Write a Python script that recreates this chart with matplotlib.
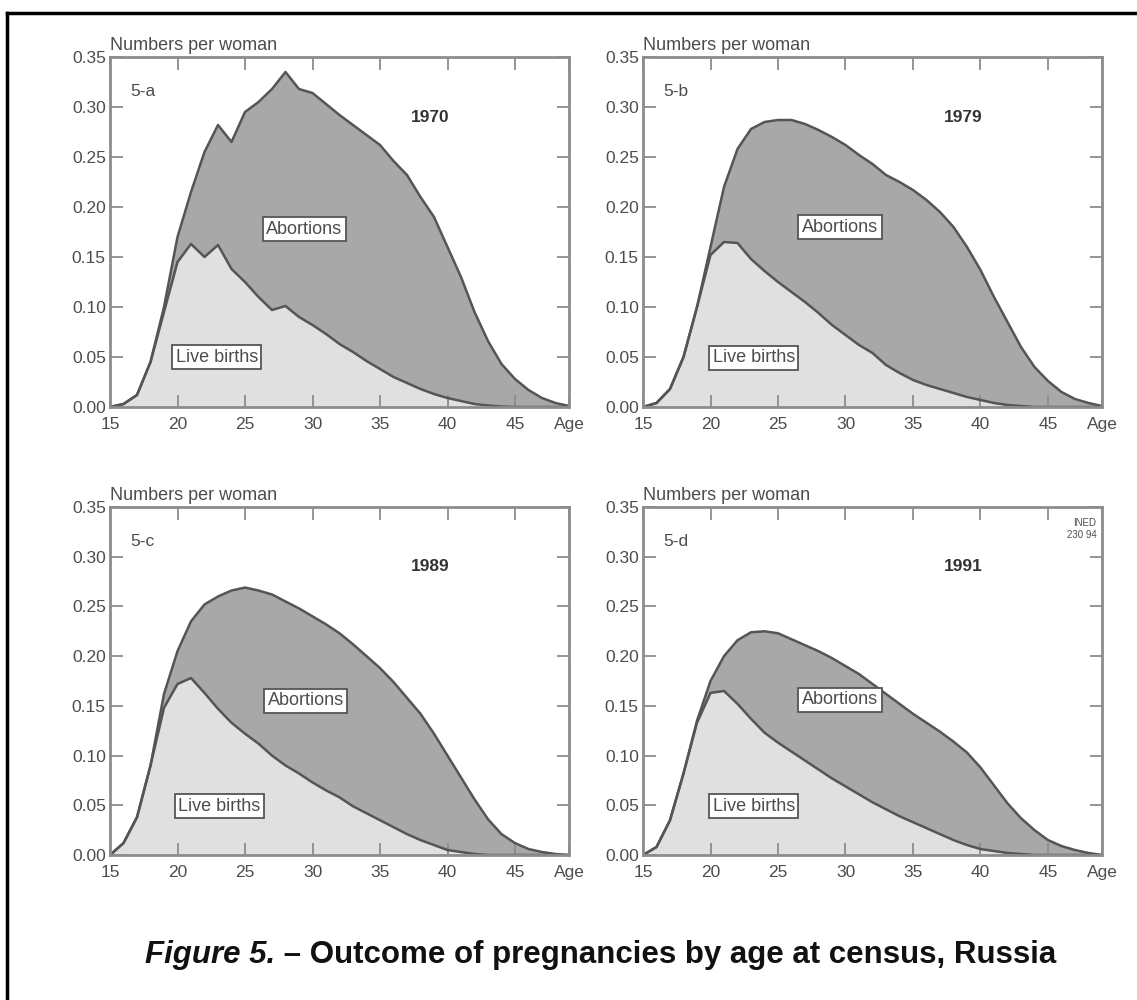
import numpy as np
import matplotlib
matplotlib.use("Agg")
import matplotlib.pyplot as plt
from matplotlib.lines import Line2D

plt.rcParams['font.family'] = ['Liberation Sans', 'DejaVu Sans']

# ages 15..49, values (numbers per woman)
ages = list(range(15, 50))

# live births and total pregnancies (live births + abortions)
live_1970 = [0.0, 0.003, 0.012, 0.045, 0.095, 0.145, 0.163, 0.15, 0.162, 0.138,
             0.125, 0.11, 0.097, 0.101, 0.09, 0.082, 0.073, 0.063, 0.055, 0.046,
             0.038, 0.03, 0.024, 0.018, 0.013, 0.009, 0.006, 0.003, 0.0015, 0.0005,
             0, 0, 0, 0, 0]
total_1970 = [0.0, 0.003, 0.012, 0.045, 0.10, 0.17, 0.215, 0.255, 0.282, 0.265,
              0.295, 0.305, 0.318, 0.335, 0.318, 0.314, 0.303, 0.292, 0.282, 0.272,
              0.262, 0.246, 0.232, 0.21, 0.19, 0.16, 0.13, 0.095, 0.066, 0.043,
              0.028, 0.017, 0.009, 0.004, 0.001]

live_1979 = [0.0, 0.004, 0.018, 0.05, 0.10, 0.152, 0.165, 0.164, 0.148, 0.136,
             0.125, 0.115, 0.105, 0.094, 0.082, 0.072, 0.062, 0.054, 0.042, 0.034,
             0.027, 0.022, 0.018, 0.014, 0.01, 0.007, 0.004, 0.002, 0.001, 0,
             0, 0, 0, 0, 0]
total_1979 = [0.0, 0.004, 0.018, 0.05, 0.10, 0.16, 0.22, 0.258, 0.278, 0.285,
              0.287, 0.287, 0.283, 0.277, 0.27, 0.262, 0.252, 0.243, 0.232, 0.225,
              0.217, 0.207, 0.195, 0.18, 0.16, 0.137, 0.11, 0.085, 0.06, 0.04,
              0.026, 0.015, 0.008, 0.004, 0.001]

live_1989 = [0.0, 0.012, 0.038, 0.09, 0.148, 0.172, 0.178, 0.163, 0.147, 0.133,
             0.122, 0.112, 0.1, 0.09, 0.082, 0.073, 0.065, 0.058, 0.049, 0.042,
             0.035, 0.028, 0.021, 0.015, 0.01, 0.005, 0.003, 0.001, 0, 0,
             0, 0, 0, 0, 0]
total_1989 = [0.0, 0.012, 0.038, 0.09, 0.162, 0.205, 0.235, 0.252, 0.26, 0.266,
              0.269, 0.266, 0.262, 0.255, 0.248, 0.24, 0.232, 0.223, 0.212, 0.2,
              0.188, 0.174, 0.158, 0.142, 0.122, 0.1, 0.078, 0.056, 0.036, 0.021,
              0.012, 0.006, 0.003, 0.001, 0.0]

live_1991 = [0.0, 0.008, 0.035, 0.082, 0.133, 0.163, 0.165, 0.152, 0.137, 0.123,
             0.113, 0.104, 0.095, 0.086, 0.077, 0.069, 0.061, 0.053, 0.046, 0.039,
             0.033, 0.027, 0.021, 0.015, 0.01, 0.006, 0.004, 0.002, 0.001, 0,
             0, 0, 0, 0, 0]
total_1991 = [0.0, 0.008, 0.035, 0.082, 0.135, 0.175, 0.2, 0.216, 0.224, 0.225,
              0.223, 0.217, 0.211, 0.205, 0.198, 0.19, 0.182, 0.172, 0.162, 0.152,
              0.142, 0.133, 0.124, 0.114, 0.103, 0.088, 0.07, 0.052, 0.037, 0.025,
              0.015, 0.009, 0.005, 0.002, 0.0]

panel_ids = ['5-a', '5-b', '5-c', '5-d']
years = ['1970', '1979', '1989', '1991']
lives = [live_1970, live_1979, live_1989, live_1991]
totals = [total_1970, total_1979, total_1989, total_1991]

xticks = [15, 20, 25, 30, 35, 40, 45, 49]
xticklabels = ['15', '20', '25', '30', '35', '40', '45', 'Age']
yticks = [0.0, 0.05, 0.10, 0.15, 0.20, 0.25, 0.30, 0.35]

# label positions (age, value) inside each panel
abort_pos = [(29.4, 0.178), (29.6, 0.18), (29.5, 0.155), (29.6, 0.156)]
births_pos = [(22.9, 0.05), (23.2, 0.049), (23.1, 0.049), (23.2, 0.049)]

W, H = 1137, 1000
fig = plt.figure(figsize=(W / 100, H / 100), dpi=100)
fig.patch.set_facecolor('white')

# axes boxes in pixels: left, top, right, bottom
boxes = [(110, 57, 569, 407), (643, 57, 1102, 407),
         (110, 507, 569, 855), (643, 507, 1102, 855)]

grey_txt = '#4d4d4d'
spine_col = '#8c8c8c'

for i, (l, t, r, b) in enumerate(boxes):
    ax = fig.add_axes([l / W, 1 - b / H, (r - l) / W, (b - t) / H])
    x = np.array(ages)
    lv = np.array(lives[i])
    tot = np.array(totals[i])
    ax.fill_between(x, 0, lv, color='#e0e0e0', lw=0)
    ax.fill_between(x, lv, tot, color='#a8a8a8', lw=0)
    ax.plot(x, tot, color='#555555', lw=1.8)
    ax.plot(x, lv, color='#555555', lw=1.8)

    ax.set_xlim(15, 49)
    ax.set_ylim(0, 0.35)
    ax.set_xticks(xticks)
    ax.set_xticklabels(xticklabels)
    ax.set_yticks(yticks)
    ax.set_yticklabels(['%.2f' % v for v in yticks])
    ax.tick_params(axis='both', direction='in', top=True, right=True,
                   length=9, width=1.3, color=spine_col,
                   labelsize=12.5, labelcolor=grey_txt)
    ax.tick_params(axis='x', pad=7)
    ax.tick_params(axis='y', pad=3)
    for s in ax.spines.values():
        s.set_color(spine_col)
        s.set_linewidth(2)

    ax.text(0, 1.01, 'Numbers per woman', transform=ax.transAxes,
            ha='left', va='bottom', fontsize=13, color=grey_txt)
    ax.text(16.5, 0.315, panel_ids[i], fontsize=12.5, color=grey_txt,
            ha='left', va='center')
    ax.text(38.7, 0.29, years[i], fontsize=12.5, fontweight='bold',
            color='#333333', ha='center', va='center')
    box = dict(boxstyle='square,pad=0.2', fc='white', ec='#555555', lw=1.3)
    ax.text(*abort_pos[i], 'Abortions', fontsize=13, color=grey_txt,
            ha='center', va='center', bbox=box)
    ax.text(*births_pos[i], 'Live births', fontsize=13, color=grey_txt,
            ha='center', va='center', bbox=box)
    if i == 3:
        ax.text(48.6, 0.328, 'INED\n230 94', fontsize=7, color=grey_txt,
                ha='right', va='center', linespacing=1.2)

# frame of the page (top and left edges visible)
fig.add_artist(Line2D([7 / W, 1], [1 - 13 / H, 1 - 13 / H], color='black',
                      lw=2.5, transform=fig.transFigure))
fig.add_artist(Line2D([7 / W, 7 / W], [0, 1 - 13 / H], color='black',
                      lw=2.5, transform=fig.transFigure))

# caption: italic bold "Figure 5." followed by bold text
cap_y = 1 - 955 / H
t1 = fig.text(145 / W, cap_y, 'Figure 5.', ha='left', va='center',
              fontsize=22.5, fontweight='bold', fontstyle='italic', color='#111111')
renderer = fig.canvas.get_renderer()
bb = t1.get_window_extent(renderer=renderer)
fig.text(bb.x1 / W, cap_y, ' \u2013 Outcome of pregnancies by age at census, Russia',
         ha='left', va='center', fontsize=22.5, fontweight='bold', color='#111111')

fig.savefig('out.png', dpi=100, facecolor='white')
